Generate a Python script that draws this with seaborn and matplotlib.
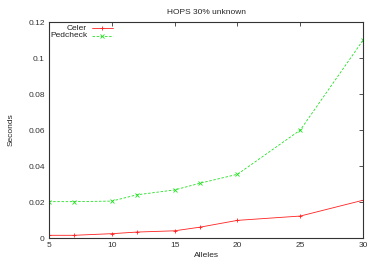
import matplotlib
matplotlib.use("Agg")
import matplotlib.pyplot as plt
import seaborn as sns

alleles = [5, 7, 10, 12, 15, 17, 20, 25, 30]
celer = [0.0015, 0.0015, 0.0024, 0.0033, 0.004, 0.006, 0.0098, 0.0122, 0.021]
pedcheck = [0.0202, 0.0202, 0.0205, 0.024, 0.0267, 0.0304, 0.0354, 0.06, 0.11]

series = [
    ("Celer", celer, "#ff2020", "-", "+"),
    ("Pedcheck", pedcheck, "#20e020", (0, (3, 2)), "x"),
]

sns.set_style("white")
plt.rcParams["font.family"] = ["Liberation Sans", "DejaVu Sans"]

fig = plt.figure(figsize=(3.74, 2.62), dpi=100)
ax = fig.add_axes([0.131, 0.0916, 0.84, 0.8244])

for name, vals, color, ls, mk in series:
    sns.lineplot(x=alleles, y=vals, color=color, linestyle=ls, marker=mk,
                 markersize=2.6, markeredgewidth=0.6, markeredgecolor=color,
                 linewidth=0.6, ax=ax)

ax.set_xlim(5, 30)
ax.set_ylim(0, 0.12)
ax.set_xticks([5, 10, 15, 20, 25, 30])
ax.set_yticks([0, 0.02, 0.04, 0.06, 0.08, 0.1, 0.12])
ax.set_yticklabels(["0", "0.02", "0.04", "0.06", "0.08", "0.1", "0.12"])
ax.tick_params(direction="in", length=3, width=0.6, labelsize=6,
               top=True, right=True, pad=3, colors="#333333")
for s in ax.spines.values():
    s.set_linewidth(0.8)
    s.set_color("#333333")

ax.set_xlabel("Alleles", fontsize=6, labelpad=2)
ax.set_ylabel("Seconds", fontsize=6, labelpad=10)
ax.set_title("HOPS 30% unknown", fontsize=6, pad=6)

# gnuplot-style key: label right-aligned, sample to the right
for i, (name, vals, color, ls, mk) in enumerate(series):
    yk = 0.97 - i * 0.033
    ax.text(0.121, yk, name, transform=ax.transAxes, ha="right", va="center",
            fontsize=6, color="#222222")
    ax.plot([0.137, 0.204], [yk, yk], transform=ax.transAxes, color=color,
            linestyle=ls, linewidth=0.6)
    ax.plot([0.17], [yk], transform=ax.transAxes, color=color, marker=mk,
            markersize=2.6, markeredgewidth=0.6)

fig.savefig("out.png", dpi=100)
